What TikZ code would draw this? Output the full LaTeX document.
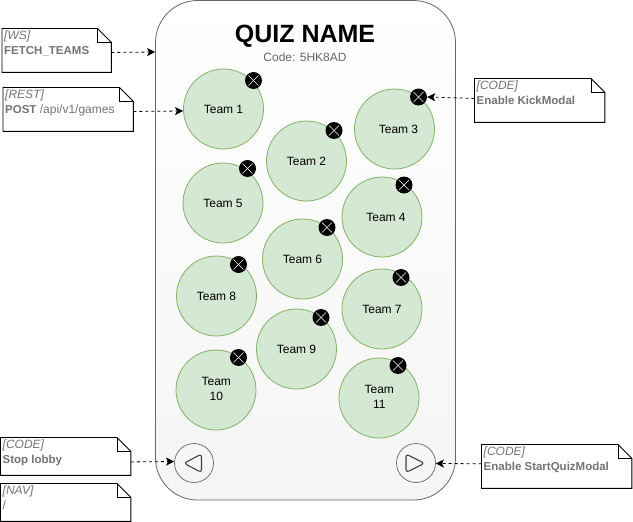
\documentclass[tikz,border=0pt]{standalone}
\usepackage{fontspec}
\setmainfont{Liberation Sans}
\usetikzlibrary{arrows.meta,calc,shapes.geometric}
\definecolor{notegray}{HTML}{737373}
\definecolor{phoneline}{HTML}{666666}
\definecolor{teamfill}{HTML}{D5E8D4}
\definecolor{teamline}{HTML}{82B366}
\tikzset{
  px/.style={x=1pt,y=-1pt},
  phone/.style={draw=phoneline,line width=0.8pt,rounded corners=42pt,top color=white,bottom color=black!4,inner sep=0pt,minimum width=300pt,minimum height=499.5pt},
  team/.style={circle,draw=teamline,line width=0.8pt,fill=teamfill,minimum size=80pt,inner sep=0pt},
  teamlabel/.style={inner sep=0pt,align=center,font=\fontsize{12}{15}\selectfont},
  badge/.style={circle,fill=black,minimum size=17pt,inner sep=0pt},
  xline/.style={draw=white,line width=0.5pt,shorten >=1.6pt,shorten <=1.6pt},
  notebody/.style={inner sep=0pt,anchor=north west},
  notetext/.style={inner sep=0pt,anchor=north west,align=left,text=notegray,font=\fontsize{12}{15}\selectfont},
  noteline/.style={draw=black,line width=0.9pt,line join=miter},
  link/.style={draw=black,line width=0.8pt,dash pattern=on 3pt off 3pt,-{Stealth[length=8pt,width=8pt,inset=1.8pt]}},
  btn/.style={circle,draw=phoneline,line width=0.7pt,minimum size=39pt,inner sep=0pt},
  tri/.style={draw=black!75,line width=1.1pt,rounded corners=3pt,line join=round},
}
\newcommand{\notebold}[1]{{\fontsize{11.5}{15}\selectfont\bfseries #1}}
\newcommand{\notebox}[7]{%
  \node[notebody,minimum width=#4pt,minimum height=#5pt] (#1) at (#2,#3) {};
  \draw[noteline] (#1.north west) -- ($(#1.north east)+(-14pt,0)$) -- ($(#1.north east)+(0,-14pt)$) -- (#1.south east) -- (#1.south west) -- cycle;
  \draw[noteline,line width=0.7pt] ($(#1.north east)+(-14pt,0)$) -- ($(#1.north east)+(-14pt,-14pt)$) -- ($(#1.north east)+(0,-14pt)$);
  \node[notetext] (#1t) at ($(#1.north west)+(2pt,-2.5pt)$) {\textit{#6}\\#7};
}
\begin{document}
\begin{tikzpicture}[px]
\useasboundingbox (0,0) rectangle (633,522);
\node[phone] (phone) at (305.5,250.25) {};
\node[font=\fontsize{25}{28}\selectfont\bfseries] (title) at (305,36.5) {QUIZ NAME};
\node[font=\fontsize{12}{15}\selectfont,text=phoneline] (code) at (305,57.5) {Code: 5HK8AD};
\foreach \n/\x/\y/\bx/\by/\tx/\ty/\lab in {
  1/223.5/109/253.5/80.5/0/0.7/{Team 1},
  3/394.5/129/418.5/97/4/0.7/{Team 3},
  2/306.5/161/334/130.5/0/0.7/{Team 2},
  5/223/203/247.5/168.5/0/0.7/{Team 5},
  4/382/217/404/185/4/0.7/{Team 4},
  6/302.5/259/327/227.5/0/0.7/{Team 6},
  8/216.5/296/238.5/264.5/0/0.7/{Team 8},
  7/382/309/401/277.5/0/0.7/{Team 7},
  9/296.5/349/321/317.5/0/0.7/{Team 9},
  10/216/390/238.5/357.5/0.3/-1/{Team\\10},
  11/379/398/398/365.5/0.3/-1/{Team\\11}}{
  \node[team] (team\n) at (\x,\y) {};
  \node[teamlabel] (name\n) at ($(team\n)+(\tx,\ty)$) {\lab};
  \node[badge] (kick\n) at (\bx,\by) {};
  \draw[xline] (kick\n.north west) -- (kick\n.south east);
  \draw[xline] (kick\n.north east) -- (kick\n.south west);
}
\node[btn] (back) at (194,463) {};
\node[btn] (next) at (416,463) {};
\draw[tri] ($(back)+(7.5,-9)$) -- ($(back)+(7.5,9.5)$) -- ($(back)+(-10,0.3)$) -- cycle;
\draw[tri] ($(next)+(-10,-9)$) -- ($(next)+(-10,9.5)$) -- ($(next)+(8.5,0.3)$) -- cycle;
\notebox{ws}{2}{28.5}{109}{43.5}{[WS]}{\notebold{FETCH\_TEAMS}}
\notebox{rest}{3}{87.5}{130}{43.5}{[REST]}{\notebold{POST} /api/v1/games}
\notebox{kickmodal}{474.5}{78.5}{130}{43.5}{[CODE]}{\notebold{Enable KickModal}}
\notebox{stop}{0.5}{437.5}{130}{37.5}{[CODE]}{\notebold{Stop lobby}}
\notebox{nav}{0.5}{483.5}{130}{37.5}{[NAV]}{/}
\notebox{startmodal}{481.5}{444.5}{150}{43.5}{[CODE]}{\notebold{Enable StartQuizModal}}
\coordinate (wsend) at (phone.west |- 0,52);
\draw[link] ([yshift=-2pt]ws.east) -- (wsend);
\draw[link] ([yshift=-2pt]rest.east) -- ([yshift=-2pt]team1.west);
\draw[link] ([yshift=2pt]kickmodal.west) -- (kick3.east);
\draw[link] ([yshift=-5.5pt]stop.east) -- (back.west |- 0,461.5);
\draw[link] ([yshift=2.7pt]startmodal.west) -- (next.east |- 0,463.5);
\end{tikzpicture}
\end{document}
